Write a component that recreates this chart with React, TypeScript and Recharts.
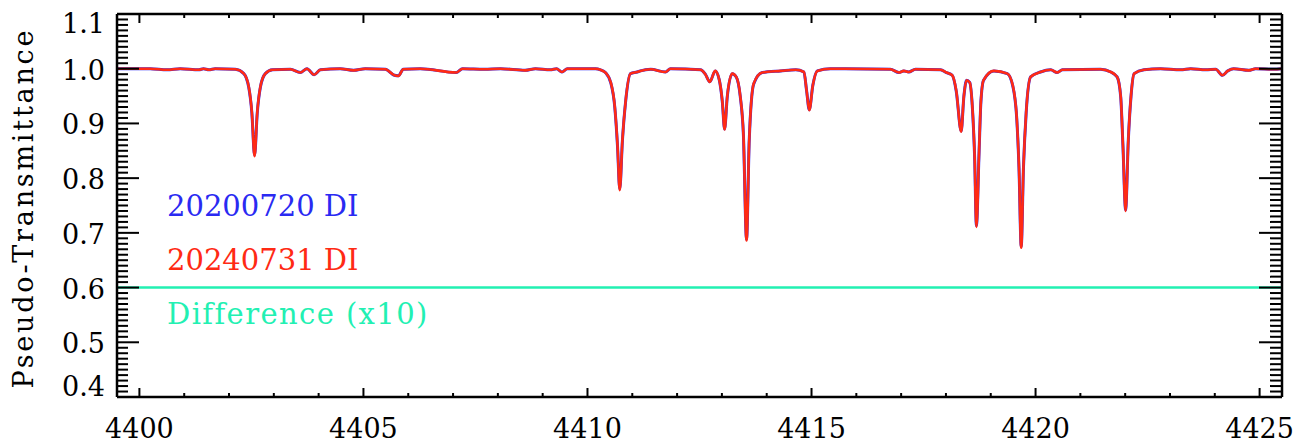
import React from 'react';
import { LineChart, Line, XAxis, YAxis, Legend } from 'recharts';

// wavelength grid (Angstrom)
const wave = [
  4399.51, 4400.24, 4400.62, 4400.91, 4401.33, 4401.43, 4401.55, 4401.69, 4402.14, 4402.33,
  4402.44, 4402.51, 4402.57, 4402.63, 4402.70, 4402.81, 4402.97, 4403.37, 4403.59, 4403.74,
  4403.90, 4404.04, 4404.48, 4404.78, 4405.04, 4405.49, 4405.69, 4405.78, 4405.89, 4406.27,
  4407.07, 4407.21, 4407.70, 4408.06, 4408.61, 4408.84, 4409.17, 4409.31, 4409.43, 4409.55,
  4410.18, 4410.29, 4410.40, 4410.52, 4410.61, 4410.67, 4410.72, 4410.78, 4410.85, 4410.96,
  4411.11, 4411.18, 4411.41, 4411.74, 4411.85, 4412.52, 4412.63, 4412.73, 4412.85, 4412.94,
  4413.01, 4413.06, 4413.12, 4413.23, 4413.32, 4413.41, 4413.48, 4413.55, 4413.61, 4413.71,
  4413.90, 4414.31, 4414.65, 4414.83, 4414.89, 4414.95, 4415.03, 4415.13, 4415.42, 4416.76,
  4416.95, 4417.06, 4417.17, 4417.32, 4417.88, 4418.01, 4418.14, 4418.23, 4418.34, 4418.40,
  4418.46, 4418.53, 4418.59, 4418.64, 4418.68, 4418.74, 4418.78, 4418.84, 4419.07, 4419.37,
  4419.49, 4419.58, 4419.63, 4419.68, 4419.73, 4419.79, 4419.89, 4420.11, 4420.34, 4420.48,
  4420.60, 4421.45, 4421.68, 4421.82, 4421.90, 4421.95, 4422.01, 4422.07, 4422.13, 4422.20,
  4422.42, 4422.79, 4423.24, 4423.46, 4423.80, 4424.02, 4424.17, 4424.29, 4424.42, 4424.76,
  4424.91, 4425.31, 4425.49,
];

// 20240731 DI
const red = [
  1.000, 1.000, 0.998, 1.000, 0.998, 1.000, 0.998, 1.000, 0.999, 0.991,
  0.967, 0.920, 0.840, 0.920, 0.967, 0.991, 0.998, 0.999, 0.993, 1.000,
  0.989, 0.998, 1.000, 0.997, 1.000, 0.999, 0.988, 0.987, 0.999, 1.000,
  0.993, 1.000, 0.999, 1.000, 0.997, 1.000, 0.998, 1.000, 0.994, 1.000,
  1.000, 0.998, 0.993, 0.975, 0.930, 0.860, 0.778, 0.870, 0.940, 0.991,
  0.994, 0.996, 0.999, 0.994, 1.000, 0.998, 0.990, 0.976, 0.996, 0.980,
  0.940, 0.889, 0.950, 0.991, 0.985, 0.950, 0.880, 0.686, 0.870, 0.973,
  0.993, 0.996, 0.998, 0.994, 0.960, 0.924, 0.970, 0.996, 1.000, 0.999,
  0.993, 0.996, 0.994, 0.999, 0.998, 0.993, 0.988, 0.960, 0.885, 0.950,
  0.979, 0.975, 0.930, 0.840, 0.711, 0.850, 0.940, 0.979, 0.996, 0.991,
  0.970, 0.910, 0.820, 0.673, 0.820, 0.920, 0.985, 0.994, 0.998, 0.993,
  0.998, 0.999, 0.994, 0.985, 0.950, 0.860, 0.740, 0.870, 0.950, 0.991,
  0.998, 1.000, 0.998, 1.000, 0.998, 0.999, 0.988, 0.996, 1.000, 0.997,
  1.000, 0.999, 1.000,
];

// 20200720 DI (almost identical, hidden under the red one)
const blue = [
  1.000, 1.000, 0.998, 1.000, 0.998, 1.000, 0.998, 1.000, 0.999, 0.991,
  0.966, 0.919, 0.842, 0.919, 0.966, 0.991, 0.998, 0.999, 0.993, 1.000,
  0.989, 0.998, 1.000, 0.997, 1.000, 0.999, 0.988, 0.987, 0.999, 1.000,
  0.993, 1.000, 0.999, 1.000, 0.997, 1.000, 0.998, 1.000, 0.994, 1.000,
  1.000, 0.998, 0.993, 0.974, 0.929, 0.859, 0.780, 0.869, 0.939, 0.991,
  0.994, 0.996, 0.999, 0.994, 1.000, 0.998, 0.990, 0.976, 0.996, 0.980,
  0.939, 0.890, 0.949, 0.991, 0.985, 0.949, 0.879, 0.688, 0.869, 0.972,
  0.993, 0.996, 0.998, 0.994, 0.960, 0.925, 0.970, 0.996, 1.000, 0.999,
  0.993, 0.996, 0.994, 0.999, 0.998, 0.993, 0.988, 0.959, 0.886, 0.949,
  0.979, 0.975, 0.929, 0.839, 0.713, 0.849, 0.939, 0.979, 0.996, 0.991,
  0.969, 0.909, 0.819, 0.675, 0.819, 0.919, 0.985, 0.994, 0.998, 0.993,
  0.998, 0.999, 0.994, 0.985, 0.949, 0.859, 0.742, 0.869, 0.949, 0.991,
  0.998, 1.000, 0.998, 1.000, 0.998, 0.999, 0.988, 0.996, 1.000, 0.997,
  1.000, 0.999, 1.000,
];

// Difference (x10), offset to 0.6
const diffWave = [4399.51, 4405.0, 4410.0, 4415.0, 4420.0, 4425.49];
const diff = [0.600, 0.600, 0.600, 0.600, 0.600, 0.600];

const xMajor = [4400, 4405, 4410, 4415, 4420, 4425];
const yMajor = [0.4, 0.5, 0.6, 0.7, 0.8, 0.9, 1.0, 1.1];

const legendItems = [
  { name: '20200720 DI', color: '#2a2af2', spacing: 0 },
  { name: '20240731 DI', color: '#ff2a14', spacing: 0 },
  { name: 'Difference (x10)', color: '#22f0b2', spacing: 1.4 },
];

const FONT = 'DejaVu Serif';

// minor ticks: every 1 A in x, every 0.01 in y
const xTicks: number[] = [];
for (let v = 4400; v <= 4425; v++) xTicks.push(v);
const yTicks: number[] = [];
for (let i = 40; i <= 110; i++) yTicks.push(i / 100);

const isMajorX = (v: number) => xMajor.includes(v);
const isMajorY = (v: number) => yMajor.some(m => Math.abs(m - v) < 1e-6);

const rows = wave.map((w, i) => ({ w, a: blue[i], b: red[i] }));
const diffRows = diffWave.map((w, i) => ({ w, d: diff[i] }));

function BottomTick(props: any) {
  const { x, y, payload } = props;
  const major = isMajorX(payload.value);
  return (
    <g>
      <line x1={x} x2={x} y1={y} y2={y - (major ? 9 : 4)} stroke="#000" strokeWidth={2} />
      {major && (
        <text x={x} y={y + 41} textAnchor="middle" fontFamily={FONT} fontSize={27} fill="#000">
          {payload.value}
        </text>
      )}
    </g>
  );
}

function TopTick(props: any) {
  const { x, y, payload } = props;
  const major = isMajorX(payload.value);
  return <line x1={x} x2={x} y1={y} y2={y + (major ? 9 : 4)} stroke="#000" strokeWidth={2} />;
}

function LeftTick(props: any) {
  const { x, y, payload } = props;
  const v = payload.value;
  const major = isMajorY(v);
  let dy = 11;
  if (Math.abs(v - 1.1) < 1e-6) dy = 19;
  if (Math.abs(v - 0.4) < 1e-6) dy = -1;
  return (
    <g>
      <line x1={x} x2={x + (major ? 22 : 11)} y1={y} y2={y} stroke="#000" strokeWidth={2} />
      {major && (
        <text x={x - 12} y={y + dy} textAnchor="end" fontFamily={FONT} fontSize={27} fill="#000">
          {v.toFixed(1)}
        </text>
      )}
    </g>
  );
}

function RightTick(props: any) {
  const { x, y, payload } = props;
  const major = isMajorY(payload.value);
  return <line x1={x} x2={x - (major ? 23 : 12)} y1={y} y2={y} stroke="#000" strokeWidth={2} />;
}

function YTitle(props: any) {
  const vb = props.viewBox;
  const cx = vb.x + vb.width - 84;
  const cy = vb.y + vb.height / 2 + 4;
  return (
    <text x={cx} y={cy} transform={`rotate(-90, ${cx}, ${cy})`} textAnchor="middle"
      fontFamily={FONT} fontSize={27} fill="#000" textLength={358} lengthAdjust="spacing">
      Pseudo-Transmittance
    </text>
  );
}

function LegendBlock() {
  return (
    <div style={{ fontFamily: FONT, fontSize: 29, lineHeight: '54px' }}>
      {legendItems.map(it => (
        <div key={it.name} style={{ color: it.color, whiteSpace: 'pre', letterSpacing: it.spacing }}>{it.name}</div>
      ))}
    </div>
  );
}

export default function App() {
  return (
    <div style={{ position: 'absolute', left: 0, top: 0, width: 1299, height: 443, background: '#fff' }}>
      <LineChart width={1299} height={443} data={rows} margin={{ top: 13, right: 16, bottom: 45, left: 116 }}>
        <XAxis xAxisId="bottom" dataKey="w" type="number" domain={[4399.5, 4425.5]} allowDataOverflow
          ticks={xTicks} interval={0} height={1} tickSize={0} tickMargin={0}
          axisLine={{ stroke: '#000', strokeWidth: 2.5 }} tick={BottomTick} />
        <XAxis xAxisId="top" orientation="top" dataKey="w" type="number" domain={[4399.5, 4425.5]} allowDataOverflow
          ticks={xTicks} interval={0} height={1} tickSize={0} tickMargin={0}
          axisLine={{ stroke: '#000', strokeWidth: 2.5 }} tick={TopTick} />
        <YAxis yAxisId="left" type="number" domain={[0.4, 1.1]} allowDataOverflow
          ticks={yTicks} interval={0} width={1} tickSize={0} tickMargin={0}
          axisLine={{ stroke: '#000', strokeWidth: 2.5 }} tick={LeftTick} label={{ content: YTitle }} />
        <YAxis yAxisId="right" orientation="right" type="number" domain={[0.4, 1.1]} allowDataOverflow
          ticks={yTicks} interval={0} width={1} tickSize={0} tickMargin={0}
          axisLine={{ stroke: '#000', strokeWidth: 2.5 }} tick={RightTick} />
        <Legend layout="vertical" align="center" verticalAlign="middle" content={<LegendBlock />}
          wrapperStyle={{ left: 167, top: 179, width: 'auto', height: 'auto' }} />
        <Line xAxisId="top" yAxisId="right" data={diffRows} dataKey="d" type="linear" stroke="#22f0b2"
          strokeWidth={2.5} dot={false} isAnimationActive={false} />
        <Line xAxisId="bottom" yAxisId="left" dataKey="a" type="monotone" stroke="#2a2af2"
          strokeWidth={3} dot={false} isAnimationActive={false} />
        <Line xAxisId="bottom" yAxisId="left" dataKey="b" type="monotone" stroke="#ff2a14"
          strokeWidth={2.6} dot={false} isAnimationActive={false} />
      </LineChart>
    </div>
  );
}
